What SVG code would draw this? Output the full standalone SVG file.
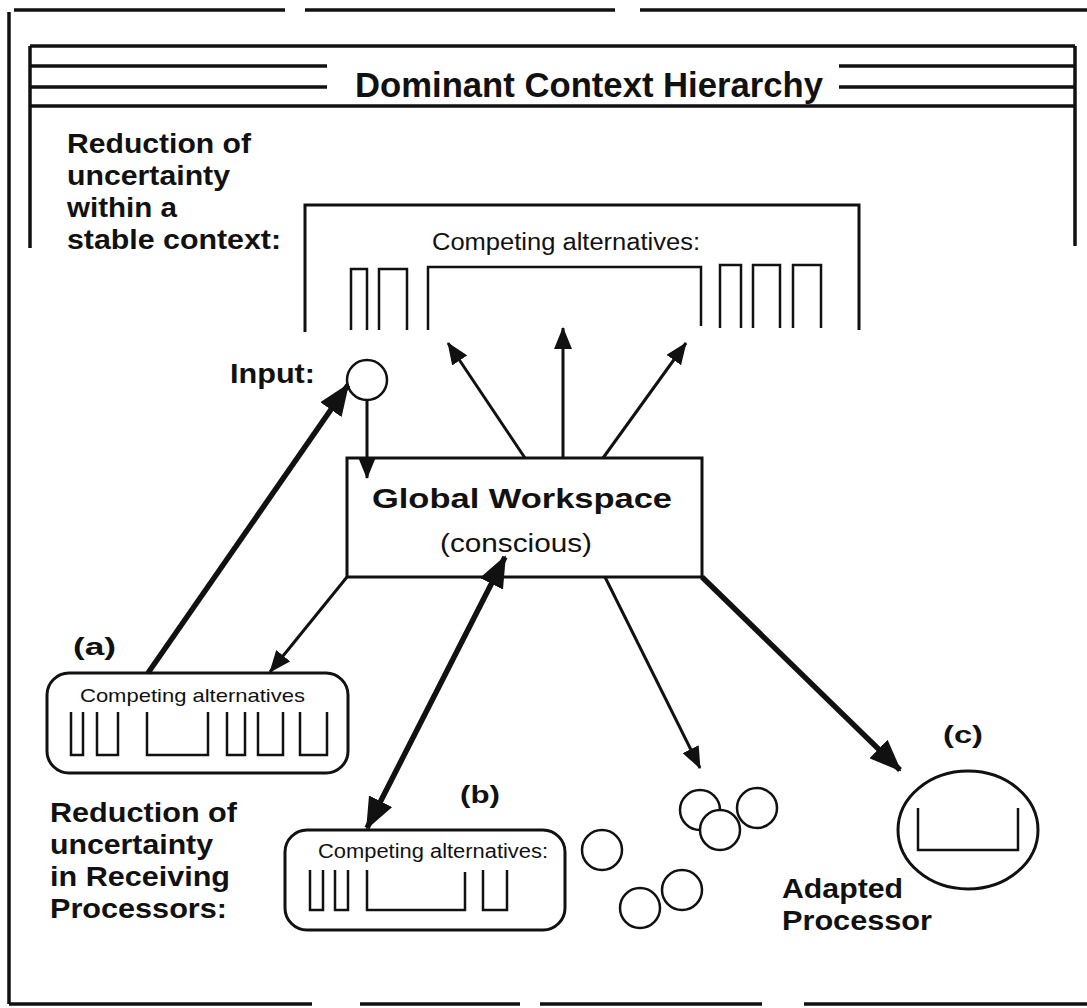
<svg xmlns="http://www.w3.org/2000/svg" width="1087" height="1008" viewBox="0 0 1087 1008">
<defs>
<style>
.ln{stroke:#111;fill:none;stroke-width:3}
.fr{stroke:#111;fill:none;stroke-width:3.5}
.sh{stroke:#111;fill:none;stroke-width:2.5}
.t{font-family:"Liberation Sans",Arial,sans-serif;fill:#111}
.b{font-weight:bold}
.lab{font-family:"Liberation Sans",Arial,sans-serif;font-weight:bold;font-size:28px;fill:#111}
.cir{stroke:#111;fill:#fff;stroke-width:2.5}
.thin{stroke:#111;stroke-width:3;fill:none}
.thick{stroke:#111;stroke-width:5.5;fill:none}
</style>
<marker id="ah" markerUnits="userSpaceOnUse" markerWidth="22" markerHeight="18" refX="21" refY="9" orient="auto">
<path d="M0,0 L22,9 L0,18 z" fill="#111"/>
</marker>
<marker id="ahL" markerUnits="userSpaceOnUse" markerWidth="32" markerHeight="26" refX="30" refY="13" orient="auto-start-reverse">
<path d="M0,0 L32,13 L0,26 z" fill="#111"/>
</marker>
</defs>
<rect width="1087" height="1008" fill="#fff"/>

<g id="frame">
<path class="fr" d="M14,10 H285 M305,10 H615 M640,10 H1087"/>
<path class="fr" d="M9,12 V1004"/>
<path class="fr" d="M9,1004 H312 M360,1004 H520 M540,1004 H762 M804,1004 H1087"/>
</g>

<g id="header">
<path class="fr" d="M30,46 H1075"/>
<path class="fr" d="M30,66 H327 M30,87 H327 M839,66 H1075 M839,87 H1075"/>
<path class="fr" d="M30,106 H1075"/>
<path class="fr" d="M30,46 V248 M1075,46 V246"/>
<text class="t b" x="355" y="97" font-size="35" textLength="468" lengthAdjust="spacingAndGlyphs">Dominant Context Hierarchy</text>
</g>

<g id="label-stable">
<text class="lab" x="67" y="153" textLength="184" lengthAdjust="spacingAndGlyphs">Reduction of</text>
<text class="lab" x="67" y="185" textLength="163" lengthAdjust="spacingAndGlyphs">uncertainty</text>
<text class="lab" x="67" y="217" textLength="110" lengthAdjust="spacingAndGlyphs">within a</text>
<text class="lab" x="67" y="249" textLength="214" lengthAdjust="spacingAndGlyphs">stable context:</text>
</g>

<g id="stable-context">
<path class="ln" d="M305,332 V205 H859 V330"/>
<text class="t" x="432" y="250" font-size="23" textLength="268" lengthAdjust="spacingAndGlyphs">Competing alternatives:</text>
<path class="sh" d="M351,330 V269 H367 V330 M379,330 V269 H407 V330 M428,330 V267 H701 V326 M720,328 V265 H741 V328 M753,328 V265 H780 V328 M793,328 V265 H821 V328"/>
</g>

<g id="input">
<text class="lab" x="230" y="383" font-size="26" textLength="85" lengthAdjust="spacingAndGlyphs">Input:</text>
<circle class="cir" cx="367" cy="380" r="20"/>
</g>

<g id="global-workspace">
<rect class="ln" x="347" y="458" width="355" height="119" fill="#fff"/>
<text class="t b" x="372" y="508" font-size="27" textLength="300" lengthAdjust="spacingAndGlyphs">Global Workspace</text>
<text class="t" x="440" y="552" font-size="25" textLength="152" lengthAdjust="spacingAndGlyphs">(conscious)</text>
</g>

<g id="proc-a">
<text class="t b" x="73" y="655" font-size="24" textLength="43" lengthAdjust="spacingAndGlyphs">(a)</text>
<rect class="ln" x="47" y="673" width="301" height="100" rx="22"/>
<text class="t" x="80" y="702" font-size="19" textLength="225" lengthAdjust="spacingAndGlyphs">Competing alternatives</text>
<path class="sh" d="M71,712 V755 H83 V712 M97,712 V755 H118 V712 M147,712 V755 H208 V712 M227,712 V755 H245 V712 M258,712 V755 H283 V712 M300,712 V755 H327 V712"/>
</g>

<g id="label-receiving">
<text class="lab" x="50" y="822" textLength="187" lengthAdjust="spacingAndGlyphs">Reduction of</text>
<text class="lab" x="50" y="854" textLength="163" lengthAdjust="spacingAndGlyphs">uncertainty</text>
<text class="lab" x="50" y="886" textLength="180" lengthAdjust="spacingAndGlyphs">in Receiving</text>
<text class="lab" x="50" y="918" textLength="177" lengthAdjust="spacingAndGlyphs">Processors:</text>
</g>

<g id="proc-b">
<text class="t b" x="460" y="803" font-size="24" textLength="40" lengthAdjust="spacingAndGlyphs">(b)</text>
<rect class="ln" x="285" y="830" width="280" height="100" rx="22"/>
<text class="t" x="318" y="858" font-size="20" textLength="230" lengthAdjust="spacingAndGlyphs">Competing alternatives:</text>
<path class="sh" d="M310,870 V910 H323 V870 M335,870 V910 H348 V870 M367,870 V910 H465 V872 M483,870 V910 H507 V870"/>
</g>

<g id="processors">
<circle class="cir" cx="602" cy="850" r="20"/>
<circle class="cir" cx="700" cy="810" r="20"/>
<circle class="cir" cx="757" cy="808" r="20"/>
<circle class="cir" cx="720" cy="830" r="20"/>
<circle class="cir" cx="640" cy="908" r="20"/>
<circle class="cir" cx="682" cy="890" r="20"/>
</g>

<g id="proc-c">
<text class="t b" x="943" y="743" font-size="24" textLength="40" lengthAdjust="spacingAndGlyphs">(c)</text>
<ellipse class="ln" cx="968" cy="830" rx="70" ry="59"/>
<path class="sh" d="M918,808 V850 H1018 V808"/>
<text class="lab" x="782" y="898" font-size="27" textLength="121" lengthAdjust="spacingAndGlyphs">Adapted</text>
<text class="lab" x="782" y="930" font-size="27" textLength="150" lengthAdjust="spacingAndGlyphs">Processor</text>
</g>

<g id="connectors">
<line class="thin" x1="525" y1="458" x2="448" y2="343" marker-end="url(#ah)"/>
<line class="thin" x1="563" y1="458" x2="563" y2="328" marker-end="url(#ah)"/>
<line class="thin" x1="603" y1="458" x2="686" y2="343" marker-end="url(#ah)"/>
<line class="thin" x1="367" y1="400" x2="367" y2="478" stroke-width="2.5" marker-end="url(#ah)"/>
<line class="thick" x1="148" y1="673" x2="348" y2="385" marker-end="url(#ahL)"/>
<line class="thin" x1="347" y1="577" x2="270" y2="672" marker-end="url(#ah)"/>
<line class="thick" x1="367" y1="828" x2="505" y2="557" marker-start="url(#ahL)" marker-end="url(#ahL)"/>
<line class="thin" x1="605" y1="577" x2="700" y2="768" marker-end="url(#ah)"/>
<line class="thick" x1="702" y1="577" x2="900" y2="770" stroke-width="6.5" marker-end="url(#ahL)"/>
</g>
</svg>
